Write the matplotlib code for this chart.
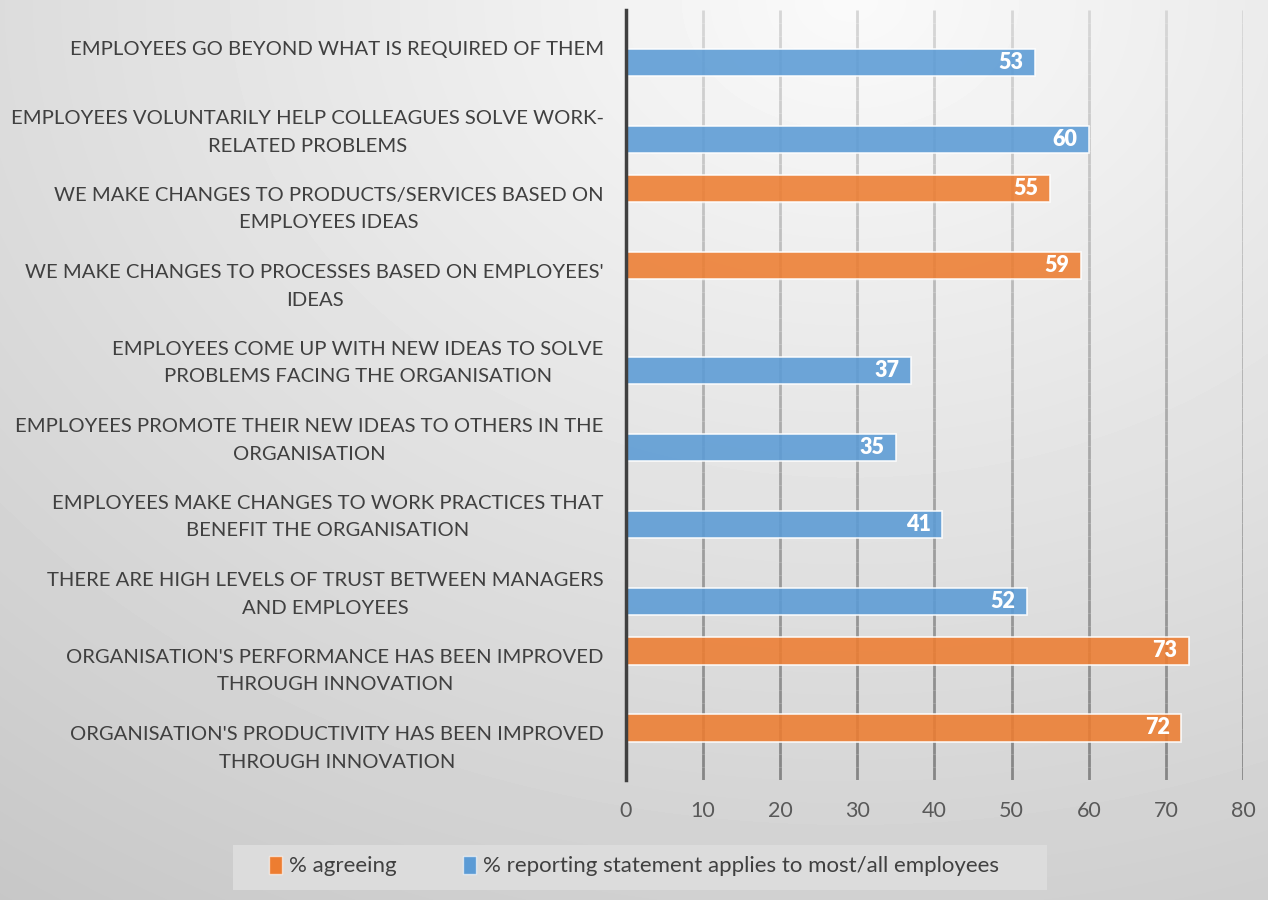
import numpy as np
import matplotlib.pyplot as plt
from matplotlib.collections import LineCollection
from matplotlib.patches import Rectangle

plt.rcParams['font.family'] = ['Lato', 'DejaVu Sans']

# Survey statements, top to bottom
statements = [
    "EMPLOYEES GO BEYOND WHAT IS REQUIRED OF THEM",
    "EMPLOYEES VOLUNTARILY HELP COLLEAGUES SOLVE WORK-\nRELATED PROBLEMS",
    "WE MAKE CHANGES TO PRODUCTS/SERVICES BASED ON\nEMPLOYEES IDEAS",
    "WE MAKE CHANGES TO PROCESSES BASED ON EMPLOYEES'\nIDEAS",
    "EMPLOYEES COME UP WITH NEW IDEAS TO SOLVE\nPROBLEMS FACING THE ORGANISATION",
    "EMPLOYEES PROMOTE THEIR NEW IDEAS TO OTHERS IN THE\nORGANISATION",
    "EMPLOYEES MAKE CHANGES TO WORK PRACTICES THAT\nBENEFIT THE ORGANISATION",
    "THERE ARE HIGH LEVELS OF TRUST BETWEEN MANAGERS\nAND EMPLOYEES",
    "ORGANISATION'S PERFORMANCE HAS BEEN IMPROVED\nTHROUGH INNOVATION",
    "ORGANISATION'S PRODUCTIVITY HAS BEEN IMPROVED\nTHROUGH INNOVATION",
]
agreeing = [None, None, 55, 59, None, None, None, None, 73, 72]
most_all = [53, 60, None, None, 37, 35, 41, 52, None, None]
series_names = ["% agreeing", "% reporting statement applies to most/all employees"]
x_ticks = [0, 10, 20, 30, 40, 50, 60, 70, 80]

orange = '#ED7D31'
blue = '#5B9BD5'
text_col = '#404040'

fig = plt.figure(figsize=(12.68, 9), dpi=100)

# soft radial background
bg = fig.add_axes([0, 0, 1, 1], zorder=-10)
W, H = 1268, 900
xx, yy = np.meshgrid(np.arange(W), np.arange(H))
d = np.sqrt((xx - 850) ** 2 + (1.3 * yy) ** 2)
shade = np.clip(250 - 0.0353 * d, 198, 250) / 255.0
bg.imshow(shade, cmap='gray', vmin=0, vmax=1, extent=[0, W, H, 0], aspect='auto')
bg.axis('off')

ax = fig.add_axes([626 / W, 1 - 780 / H, (1243 - 626) / W, 770 / H])
ax.set_facecolor('none')

n = len(statements)
pos = np.arange(n)
bar_h = 0.36
off = 0.18

def draw_series(values, color, shift):
    for i, v in enumerate(values):
        if v is None:
            continue
        ax.barh(i + shift, v, height=bar_h, color=color, alpha=0.88,
                edgecolor=(1, 1, 1, 0.5), linewidth=1.2, zorder=3)
        ax.text(v - 1.5, i + shift, str(v), ha='right', va='center',
                color='white', fontsize=15.5, fontweight='heavy', zorder=4)

draw_series(agreeing, orange, -off)
draw_series(most_all, blue, off)

ax.set_xlim(0, 80)
ax.set_ylim(n - 0.5, -0.5)

# vertical gridlines fading from light at the top to darker at the bottom
segs, cols = [], []
steps = 60
ys = np.linspace(-0.5, n - 0.5, steps + 1)
for t in x_ticks[1:]:
    for k in range(steps):
        segs.append([(t, ys[k]), (t, ys[k + 1])])
        g = 0.84 - 0.32 * (k / steps)
        cols.append((g, g, g))
ax.add_collection(LineCollection(segs, colors=cols, linewidths=2.0, zorder=1))

for s in ['top', 'right', 'bottom']:
    ax.spines[s].set_visible(False)
ax.spines['left'].set_color('#404040')
ax.spines['left'].set_linewidth(2.5)
ax.spines['left'].set_zorder(5)

ax.set_xticks(x_ticks)
ax.set_xticklabels([str(t) for t in x_ticks], fontsize=15.5, color='#595959')
ax.tick_params(axis='x', length=0, pad=15)
ax.set_yticks(pos)
ax.set_yticklabels(statements, fontsize=14.6, color=text_col, multialignment='center',
                   linespacing=1.75)
ax.tick_params(axis='y', length=0, pad=16)

# legend box
fig.patches.append(Rectangle((233 / W, 1 - 890 / H), (1047 - 233) / W, 45 / H,
                             transform=fig.transFigure, facecolor='#dcdcdc',
                             edgecolor='none', zorder=-5))
handles = [Rectangle((0, 0), 1, 1, facecolor=orange, edgecolor=(1, 1, 1, 0.6)),
           Rectangle((0, 0), 1, 1, facecolor=blue, edgecolor=(1, 1, 1, 0.6))]
fig.legend(handles, series_names, loc='center', bbox_to_anchor=(634 / W, 1 - 866 / H),
           ncol=2, frameon=False, fontsize=16, labelcolor=text_col,
           handlelength=0.6, handleheight=0.9, handletextpad=0.3, columnspacing=3.0)

fig.savefig('out.png', dpi=100)
